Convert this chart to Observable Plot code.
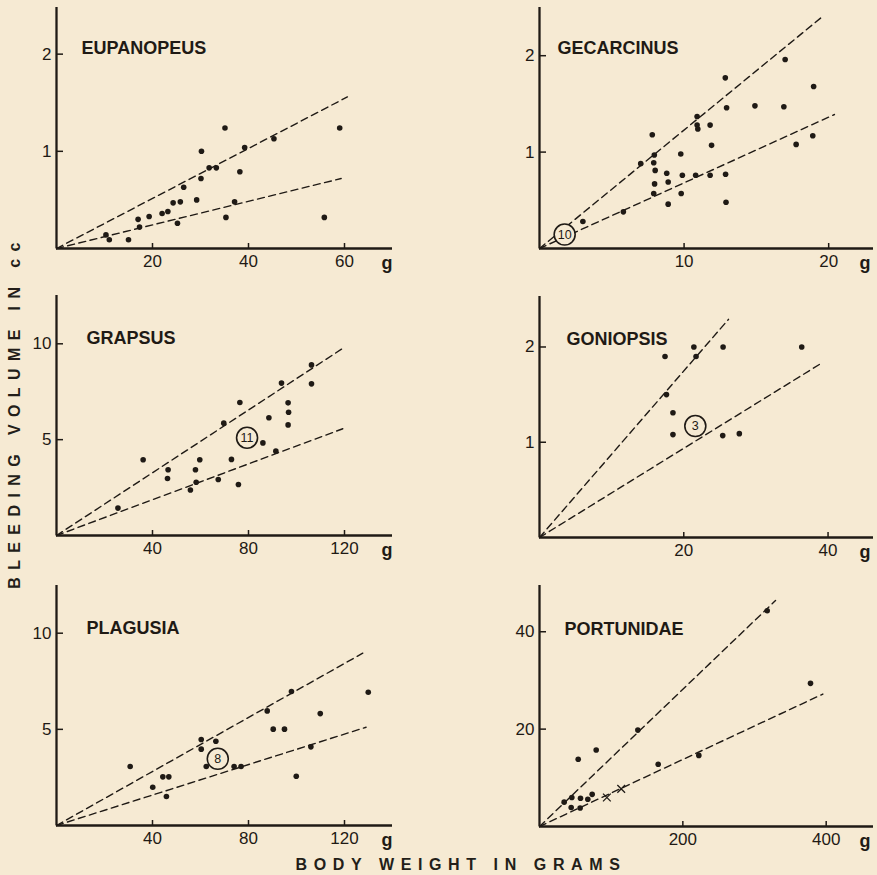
<!DOCTYPE html>
<html>
<head>
<meta charset="utf-8">
<script src="https://cdn.jsdelivr.net/npm/d3@7"></script>
<script src="https://cdn.jsdelivr.net/npm/@observablehq/plot@0.6"></script>
<style>
  body { margin: 0; background: #f6ead3; }
  #wrap { position: relative; width: 877px; height: 875px; background: #f6ead3; overflow: hidden;
          font-family: "Liberation Sans", Arial, sans-serif; color: #231e19; }
  .panel { position: absolute; }
  #xlab { position: absolute; left: 461px; top: 857px; transform: translateX(-50%); white-space: nowrap;
          font-size: 16px; font-weight: bold; letter-spacing: 6.6px; line-height: 16px; }
  #ylab { position: absolute; left: 14.5px; top: 412px; transform: translate(-50%, -50%) rotate(-90deg);
          white-space: nowrap; font-size: 16px; font-weight: bold; letter-spacing: 7.4px; line-height: 16px; }
</style>
</head>
<body>
<div id="wrap">
  <div id="ylab">BLEEDING VOLUME IN cc</div>
  <div id="xlab">BODY WEIGHT IN GRAMS</div>
</div>
<script>
// ---------- data (body weight g, bleeding volume cc) ----------
const speciesNames = ["EUPANOPEUS", "GECARCINUS", "GRAPSUS", "GONIOPSIS", "PLAGUSIA", "PORTUNIDAE"];

const eupanopeusPoints = [[10.3,0.14],[11,0.09],[15,0.09],[17,0.30],[17.3,0.22],[19.3,0.33],[22,0.36],[23.2,0.38],[24.3,0.47],[25.8,0.48],[25.2,0.26],[26.5,0.63],[29.2,0.50],[30.2,1.0],[30.1,0.72],[31.8,0.83],[33.3,0.83],[35.1,1.24],[35.3,0.32],[37.1,0.48],[38.2,0.79],[39.2,1.04],[45.3,1.13],[55.8,0.32],[59,1.24]];
const eupanopeusLines = [[60.6,1.56],[59.3,0.72]];

const gecarcinusPoints = [[3.0,0.28],[5.8,0.38],[7.0,0.88],[7.8,1.18],[7.94,0.97],[7.9,0.89],[8.0,0.81],[7.96,0.67],[7.9,0.57],[8.8,0.78],[8.9,0.69],[8.9,0.46],[9.77,0.98],[9.88,0.76],[9.8,0.57],[10.8,0.76],[10.9,1.37],[10.9,1.28],[10.95,1.24],[11.8,1.28],[11.9,1.07],[11.8,0.76],[12.85,1.77],[12.94,1.46],[12.87,0.77],[12.9,0.48],[14.9,1.48],[16.99,1.96],[16.9,1.47],[17.75,1.08],[18.96,1.68],[18.9,1.17]];
const gecarcinusLines = [[19.44,2.39],[20.4,1.39]];
const gecarcinusCounts = [[1.74,0.145,"10"]];

const grapsusPoints = [[25.6,1.43],[36.1,3.95],[46.5,3.43],[46.25,2.97],[55.8,2.37],[57.9,3.43],[58.2,2.78],[59.7,3.95],[67.4,2.92],[69.7,5.86],[72.9,3.97],[75.8,2.66],[76.4,6.94],[86,4.83],[88.5,6.14],[91.4,4.4],[93.75,7.95],[96.5,6.92],[96.7,6.43],[96.5,5.77],[106.25,8.9],[106.25,7.91]];
const grapsusLines = [[119,9.74],[119.3,5.57]];
const grapsusCounts = [[79.4,5.1,"11"]];

const goniopsisPoints = [[17.4,1.90],[17.6,1.50],[18.5,1.31],[18.5,1.08],[21.4,2.0],[21.7,1.90],[25.45,2.0],[25.4,1.07],[27.7,1.09],[36.35,2.0]];
const goniopsisLines = [[26.2,2.29],[39.3,1.84]];
const goniopsisCounts = [[21.6,1.17,"3"]];

const plagusiaPoints = [[30.7,3.07],[40.1,1.99],[44.3,2.53],[46.8,2.53],[45.8,1.51],[60.3,4.47],[60.3,3.97],[62.4,3.07],[66.4,4.38],[74,3.07],[76.9,3.07],[87.8,5.96],[90.3,5.01],[95,5.01],[97.9,6.97],[99.9,2.56],[106,4.09],[109.9,5.82],[129.9,6.93]];
const plagusiaLines = [[127.6,8.96],[129,5.11]];
const plagusiaCounts = [[67.2,3.47,"8"]];

const portunidaePoints = [[34.4,5.0],[44.2,3.9],[45.1,5.96],[54,13.8],[57.2,5.8],[56.7,3.8],[67.4,5.6],[73.5,6.6],[79.1,15.7],[137.2,19.8],[165.6,12.8],[222.3,14.6],[317.7,44.3],[378.1,29.4]];
const portunidaeCrosses = [[94,5.96],[114,7.74]];
const portunidaeLines = [[329.3,46.4],[395.3,27.2]];

const xTickSets = [[20,40,60],[10,20],[40,80,120],[20,40],[40,80,120],[200,400]];
const yTickSets = [[1,2],[1,2],[5,10],[1,2],[5,10],[20,40]];
const xDomains = [[0,70],[0,23.1],[0,140],[0,46.3],[0,140],[0,466]];
const yDomains = [[0,2.48],[0,2.5],[0,12.52],[0,2.53],[0,12.48],[0,49.5]];
const unitLabel = "g";

// ---------- layout ----------
const ink = "#1f1a15";
const bg = "#f6ead3";
const layouts = [
  {left: 0,   top: 0,   width: 440, height: 285, mL: 56, mR: 48, mT: 7,  mB: 37, tdx: 25, tdy: 41, gdx: 0},
  {left: 440, top: 0,   width: 437, height: 285, mL: 99, mR: 4,  mT: 7,  mB: 37, tdx: 18, tdy: 41, gdx: -3},
  {left: 0,   top: 285, width: 440, height: 290, mL: 56, mR: 48, mT: 10, mB: 40, tdx: 30, tdy: 43, gdx: 0},
  {left: 440, top: 285, width: 437, height: 290, mL: 99, mR: 4,  mT: 11, mB: 38, tdx: 27, tdy: 43, gdx: -3},
  {left: 0,   top: 575, width: 440, height: 300, mL: 56, mR: 48, mT: 10, mB: 50, tdx: 30, tdy: 43, gdx: 0},
  {left: 440, top: 575, width: 437, height: 300, mL: 99, mR: 4,  mT: 10, mB: 49, tdx: 25, tdy: 44, gdx: -3}
];
const pointSets = [eupanopeusPoints, gecarcinusPoints, grapsusPoints, goniopsisPoints, plagusiaPoints, portunidaePoints];
const lineSets = [eupanopeusLines, gecarcinusLines, grapsusLines, goniopsisLines, plagusiaLines, portunidaeLines];
const countSets = [[], gecarcinusCounts, grapsusCounts, goniopsisCounts, plagusiaCounts, []];
const crossSets = [[], [], [], [], [], portunidaeCrosses];

const wrap = document.getElementById("wrap");

speciesNames.forEach((name, i) => {
  const L = layouts[i];
  const fw = L.width - L.mL - L.mR;
  const fh = L.height - L.mT - L.mB;
  const lineData = lineSets[i].flatMap((e, k) => [{x: 0, y: 0, id: k}, {x: e[0], y: e[1], id: k}]);
  const chart = Plot.plot({
    width: L.width, height: L.height,
    marginLeft: L.mL, marginRight: L.mR, marginTop: L.mT, marginBottom: L.mB,
    x: {domain: xDomains[i]},
    y: {domain: yDomains[i]},
    style: {fontFamily: "Liberation Sans, Arial, sans-serif", color: ink, background: "transparent", overflow: "visible"},
    marks: [
      Plot.line(lineData, {x: "x", y: "y", z: "id", stroke: ink, strokeWidth: 1.4, strokeDasharray: "7,4.5"}),
      Plot.ruleX([0], {stroke: ink, strokeWidth: 2.3}),
      Plot.ruleY([0], {stroke: ink, strokeWidth: 2.3}),
      Plot.tickY(yTickSets[i], {y: d => d, insetRight: fw - 7, stroke: ink, strokeWidth: 1.5}),
      Plot.tickX(xTickSets[i], {x: d => d, insetTop: fh - 5, stroke: ink, strokeWidth: 1.5}),
      Plot.axisY(yTickSets[i], {tickSize: 0, tickPadding: 5, fontSize: 17, label: null, tickFormat: d => String(d)}),
      Plot.axisX(xTickSets[i], {tickSize: 0, tickPadding: 6, fontSize: 17, label: null, tickFormat: d => String(d)}),
      Plot.dot(pointSets[i], {x: d => d[0], y: d => d[1], r: 2.8, fill: ink, stroke: "none"}),
      Plot.dot(crossSets[i], {x: d => d[0], y: d => d[1], symbol: "times", r: 3.6, stroke: ink, strokeWidth: 1.3}),
      Plot.dot(countSets[i], {x: d => d[0], y: d => d[1], r: 10.5, fill: bg, stroke: ink, strokeWidth: 1.6}),
      Plot.text(countSets[i], {x: d => d[0], y: d => d[1], text: d => d[2], fontSize: 12.5, fill: ink}),
      Plot.text([name], {frameAnchor: "top-left", dx: L.tdx, dy: L.tdy, text: d => d, textAnchor: "start",
                         lineAnchor: "middle", fontSize: 18, fontWeight: "bold", fill: ink}),
      Plot.text([unitLabel], {frameAnchor: "bottom-right", dx: L.gdx, dy: 15, text: d => d, textAnchor: "end",
                              lineAnchor: "middle", fontSize: 18, fontWeight: "bold", fill: ink})
    ]
  });
  chart.classList.add("panel");
  chart.style.left = L.left + "px";
  chart.style.top = L.top + "px";
  chart.style.maxWidth = "none";
  wrap.appendChild(chart);
});
</script>
</body>
</html>
